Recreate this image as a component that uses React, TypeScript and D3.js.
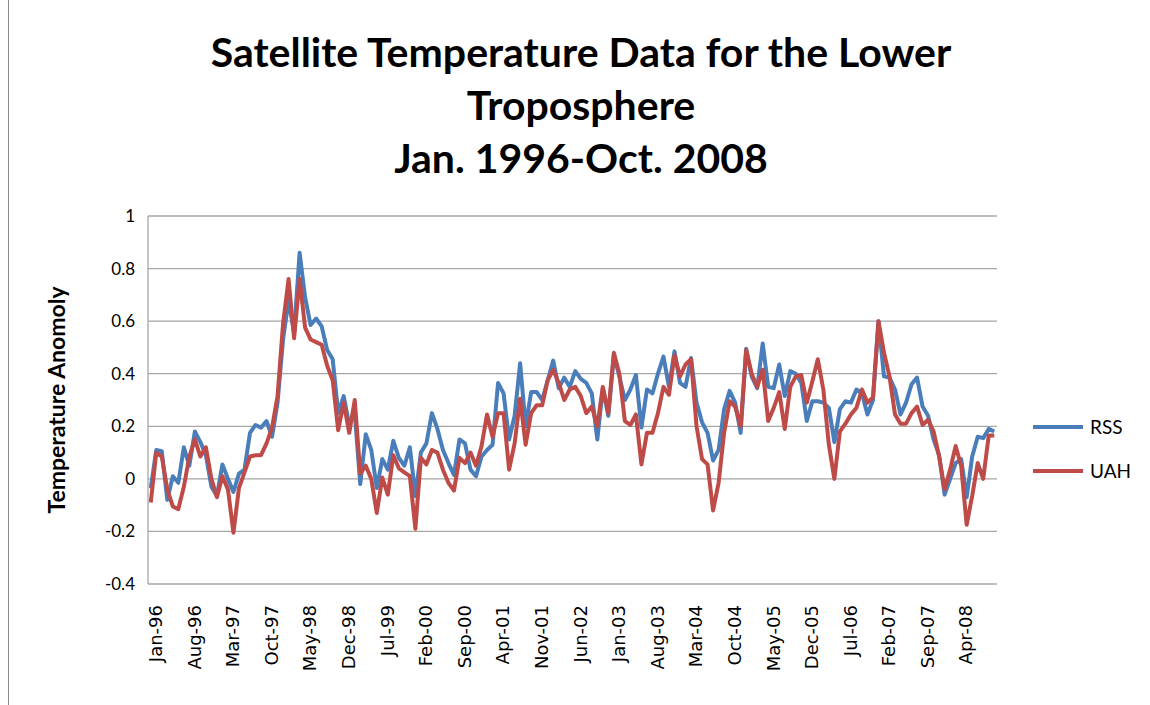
import * as d3 from 'd3';

// monthly anomalies, Jan 1996 - Oct 2008
const rss = [
  -0.035, 0.11, 0.105, -0.08, 0.01, -0.015, 0.12, 0.05, 0.18, 0.14, 0.09, -0.03,
  -0.065, 0.055, 0.0, -0.05, 0.02, 0.035, 0.175, 0.205, 0.195, 0.22, 0.16, 0.29,
  0.53, 0.68, 0.555, 0.86, 0.69, 0.585, 0.61, 0.58, 0.49, 0.455, 0.25, 0.315,
  0.205, 0.25, -0.02, 0.17, 0.11, -0.035, 0.075, 0.035, 0.145, 0.08, 0.05, 0.12,
  -0.065, 0.1, 0.135, 0.25, 0.19, 0.11, 0.06, 0.015, 0.15, 0.135, 0.035, 0.01,
  0.085, 0.11, 0.13, 0.365, 0.325, 0.15, 0.24, 0.44, 0.2, 0.33, 0.33, 0.3,
  0.375, 0.45, 0.345, 0.385, 0.35, 0.41, 0.38, 0.365, 0.325, 0.15, 0.345, 0.24,
  0.47, 0.39, 0.3, 0.34, 0.395, 0.195, 0.34, 0.325, 0.4, 0.465, 0.35, 0.485,
  0.365, 0.35, 0.46, 0.29, 0.215, 0.175, 0.07, 0.11, 0.265, 0.335, 0.29, 0.175,
  0.495, 0.39, 0.345, 0.515, 0.35, 0.345, 0.435, 0.315, 0.41, 0.4, 0.365, 0.22,
  0.295, 0.295, 0.29, 0.27, 0.14, 0.265, 0.295, 0.29, 0.34, 0.325, 0.245, 0.3,
  0.6, 0.39, 0.385, 0.34, 0.245, 0.29, 0.36, 0.385, 0.275, 0.24, 0.15, 0.09,
  -0.06, 0.0, 0.06, 0.075, -0.07, 0.085, 0.16, 0.155, 0.19, 0.18,
];

const uah = [
  -0.09, 0.1, 0.085, -0.04, -0.105, -0.115, -0.03, 0.085, 0.15, 0.085, 0.12, 0.0,
  -0.07, 0.01, -0.04, -0.205, -0.035, 0.025, 0.085, 0.09, 0.09, 0.135, 0.195, 0.315,
  0.59, 0.76, 0.535, 0.76, 0.575, 0.53, 0.52, 0.51, 0.43, 0.375, 0.185, 0.29,
  0.175, 0.3, 0.02, 0.05, 0.0, -0.13, 0.005, -0.06, 0.09, 0.04, 0.025, 0.01,
  -0.19, 0.08, 0.055, 0.11, 0.1, 0.035, -0.015, -0.045, 0.08, 0.06, 0.1, 0.05,
  0.125, 0.245, 0.16, 0.25, 0.25, 0.035, 0.135, 0.305, 0.13, 0.25, 0.28, 0.28,
  0.375, 0.415, 0.365, 0.3, 0.34, 0.35, 0.315, 0.25, 0.275, 0.2, 0.35, 0.25,
  0.48, 0.4, 0.22, 0.205, 0.245, 0.055, 0.175, 0.175, 0.25, 0.35, 0.32, 0.47,
  0.39, 0.435, 0.455, 0.2, 0.075, 0.055, -0.12, -0.015, 0.175, 0.295, 0.275, 0.2,
  0.49, 0.4, 0.35, 0.415, 0.22, 0.27, 0.33, 0.19, 0.35, 0.39, 0.395, 0.29,
  0.37, 0.455, 0.34, 0.13, 0.0, 0.18, 0.21, 0.245, 0.27, 0.34, 0.29, 0.31,
  0.6, 0.48, 0.39, 0.245, 0.21, 0.21, 0.25, 0.275, 0.205, 0.225, 0.18, 0.085,
  -0.04, 0.035, 0.125, 0.05, -0.175, -0.065, 0.06, 0.0, 0.165, 0.165,
];

const monthNames = ['Jan', 'Feb', 'Mar', 'Apr', 'May', 'Jun', 'Jul', 'Aug', 'Sep', 'Oct', 'Nov', 'Dec'];
const yTicks = [-0.4, -0.2, 0, 0.2, 0.4, 0.6, 0.8, 1];
const titleLines = ['Satellite Temperature Data for the Lower', 'Troposphere', 'Jan. 1996-Oct. 2008'];

const series = [
  { name: 'RSS', values: rss, color: '#4a7ebb' },
  { name: 'UAH', values: uah, color: '#be4b48' },
];

// category labels like "Jan-96"
const months = rss.map((_, i) => {
  const yr = 96 + Math.floor(i / 12);
  return `${monthNames[i % 12]}-${String(yr % 100).padStart(2, '0')}`;
});

export default function App() {
  const width = 1150;
  const height = 705;
  const margin = { top: 216, right: 153, bottom: 121, left: 148 };
  const innerW = width - margin.left - margin.right;
  const innerH = height - margin.top - margin.bottom;

  const x = d3.scaleBand<number>().domain(d3.range(months.length)).range([0, innerW]);
  const cx = (i: number) => (x(i) ?? 0) + x.bandwidth() / 2;
  const y = d3.scaleLinear().domain([-0.4, 1]).range([innerH, 0]);

  const line = d3
    .line<number>()
    .x((_, i) => cx(i))
    .y((d) => y(d));

  const tickIdx = d3.range(0, months.length, 7);

  return (
    <svg width={width} height={height} style={{ position: 'absolute', left: 0, top: 0, background: '#fff' }}>
      <line x1={8.5} x2={8.5} y1={0} y2={height} stroke="#8c8c8c" strokeWidth={1} />

      {/* title */}
      <g fontFamily="Lato, 'Open Sans', sans-serif" fontWeight="bold" fontSize={41} textAnchor="middle" fill="#000">
        {titleLines.map((t, i) => (
          <text key={t} x={581} y={67 + i * 53}>
            {t}
          </text>
        ))}
      </g>

      <g transform={`translate(${margin.left},${margin.top})`}>
        {/* gridlines */}
        {yTicks.map((t) => (
          <line key={t} x1={0} x2={innerW} y1={y(t)} y2={y(t)} stroke="#a6a6a6" strokeWidth={1.3} />
        ))}
        <line x1={0} x2={0} y1={0} y2={innerH} stroke="#a6a6a6" strokeWidth={1.3} />

        {/* y tick labels */}
        {yTicks.map((t) => (
          <text
            key={t}
            x={-13}
            y={y(t)}
            dy="0.35em"
            textAnchor="end"
            fontFamily="Lato, sans-serif"
            fontSize={17}
          >
            {String(+t.toFixed(1))}
          </text>
        ))}

        {/* x tick labels */}
        {tickIdx.map((i) => (
          <text
            key={i}
            transform={`translate(${cx(i) + 5},${innerH + 21}) rotate(-90)`}
            textAnchor="end"
            dy="0.35em"
            fontFamily="'DejaVu Sans', sans-serif"
            fontSize={18}
          >
            {months[i]}
          </text>
        ))}

        {/* series */}
        {series.map((s) => (
          <path
            key={s.name}
            d={line(s.values) ?? ''}
            fill="none"
            stroke={s.color}
            strokeWidth={4}
            strokeLinejoin="round"
          />
        ))}
      </g>

      {/* y axis title */}
      <text
        transform="translate(57,400) rotate(-90)"
        textAnchor="middle"
        dy="0.35em"
        fontFamily="Lato, sans-serif"
        fontWeight="bold"
        fontSize={23}
      >
        Temperature Anomoly
      </text>

      {/* legend */}
      {series.map((s, i) => (
        <g key={s.name} transform={`translate(1033,${427 + i * 44})`}>
          <line x1={0} x2={50} y1={0} y2={0} stroke={s.color} strokeWidth={4} />
          <text x={57} y={0} dy="0.35em" fontFamily="Lato, sans-serif" fontSize={19}>
            {s.name}
          </text>
        </g>
      ))}
    </svg>
  );
}
